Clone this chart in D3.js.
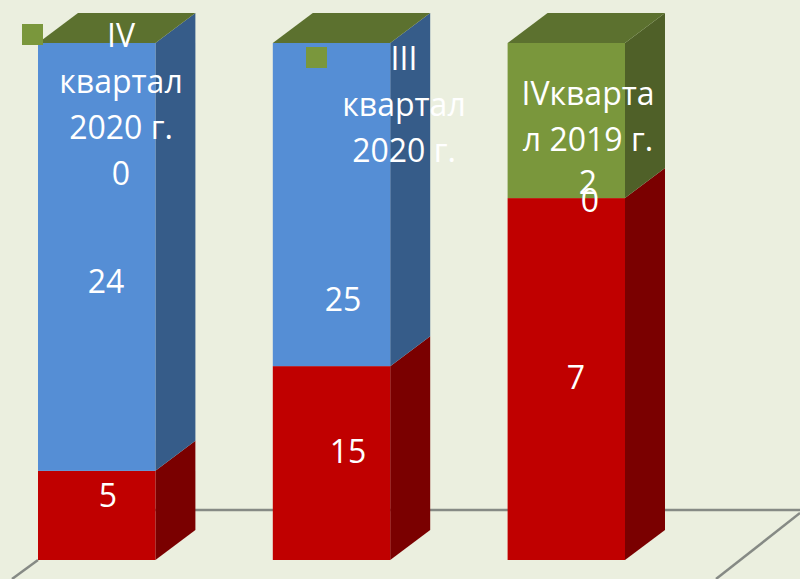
<!DOCTYPE html>
<html>
<head>
<meta charset="utf-8">
<script src="https://cdnjs.cloudflare.com/ajax/libs/d3/7.8.5/d3.min.js"></script>
<style>
    html, body { margin: 0; padding: 0; background: #ebefdf; }
    svg { display: block; }
    text { font-family: "Open Sans", sans-serif; font-size: 32px; fill: #fff; text-anchor: middle; }
</style>
</head>
<body>
<svg id="chart"></svg>
<script>
const quarters = ["IV квартал 2020 г.", "III квартал 2020 г.", "IV квартал 2019 г."];
const seriesNames = ["red", "blue", "green"];
const redValues = [5, 15, 7];
const blueValues = [24, 25, 0];
// the third bar is drawn as 7 to 3 in the picture, its printed label says 2
const greenValues = [0, 0, 3];

// the category labels wrap inside the bars like in the original
const wrappedLabels = [
    ["IV", "квартал", "2020 г.", "0"],
    ["III", "квартал", "2020 г."],
    ["IVкварта", "л 2019 г.", "2"]
];

const width = 800;
const height = 579;
const depthX = 40;
const depthY = -30;

const colors = {
    red: { front: "#c00000", side: "#7a0000" },
    blue: { front: "#558ed5", side: "#365c89" },
    green: { front: "#7a973c", side: "#4f6028", top: "#5c712f" }
};

const svg = d3.select("#chart").attr("width", width).attr("height", height);

const table = quarters.map((q, i) => ({
    quarter: q,
    red: redValues[i],
    blue: blueValues[i],
    green: greenValues[i]
}));

const stacked = d3.stack()
    .keys(seriesNames)
    .offset(d3.stackOffsetExpand)(table);

const xScale = d3.scaleBand()
    .domain(quarters)
    .range([38, 625])
    .paddingInner(0.5);

const yScale = d3.scaleLinear()
    .domain([0, 1])
    .range([560, 43]);

const bw = xScale.bandwidth();

// floor lines
svg.append("line").attr("x1", 155).attr("y1", 510).attr("x2", 800).attr("y2", 510)
    .attr("stroke", "#868a85").attr("stroke-width", 2.5);
svg.append("line").attr("x1", 38).attr("y1", 560).attr("x2", 12).attr("y2", 579)
    .attr("stroke", "#868a85").attr("stroke-width", 2.5);
svg.append("line").attr("x1", 800).attr("y1", 513).attr("x2", 716).attr("y2", 579)
    .attr("stroke", "#868a85").attr("stroke-width", 2.5);

const line = d3.line();

stacked.forEach(layer => {
    const g = svg.append("g").attr("class", "series-" + layer.key);
    const c = colors[layer.key];
    const parts = layer.map(d => ({ d, x0: xScale(d.data.quarter), y0: yScale(d[0]), y1: yScale(d[1]) }))
        .filter(p => p.y0 !== p.y1);

    g.selectAll(".side")
        .data(parts)
        .enter().append("path")
        .attr("class", "side")
        .attr("d", p => {
            const r = p.x0 + bw;
            return line([[r, p.y0], [r + depthX, p.y0 + depthY], [r + depthX, p.y1 + depthY], [r, p.y1]]) + "Z";
        })
        .attr("fill", c.side);

    g.selectAll(".front")
        .data(parts)
        .enter().append("rect")
        .attr("class", "front")
        .attr("x", p => p.x0)
        .attr("y", p => p.y1)
        .attr("width", bw)
        .attr("height", p => p.y0 - p.y1)
        .attr("fill", c.front);
});

// top faces belong to the green series even when its value is 0
svg.append("g").selectAll("path")
    .data(quarters)
    .enter().append("path")
    .attr("d", q => {
        const l = xScale(q);
        const t = yScale(1);
        return line([[l, t], [l + bw, t], [l + bw + depthX, t + depthY], [l + depthX, t + depthY]]) + "Z";
    })
    .attr("fill", colors.green.top);

// small legend keys inside the labels
const keyX = [22, 306];
const keyY = [24, 47];
svg.append("g").selectAll("rect")
    .data(keyX)
    .enter().append("rect")
    .attr("x", d => d)
    .attr("y", (d, i) => keyY[i])
    .attr("width", 21)
    .attr("height", 21)
    .attr("fill", colors.green.front);

// labels were dragged by hand in the original, so they get their own spots
const labelCenters = [121, 404, 588];
const labelFirstLine = [47, 70, 105];
const lineStep = 46;

wrappedLabels.forEach((lines, i) => {
    svg.append("g").selectAll("text")
        .data(lines)
        .enter().append("text")
        .attr("x", labelCenters[i])
        .attr("y", (d, j) => labelFirstLine[i] + j * lineStep - (lines.length === 3 && i === 2 && j === 2 ? 3 : 0))
        .text(d => d);
});

const redLabelX = [108, 348, 576];
const redLabelY = [507, 463, 389];
const blueLabelX = [106, 343, 590];
const blueLabelY = [293, 311, 212];

svg.append("g").selectAll("text")
    .data(redValues)
    .enter().append("text")
    .attr("x", (d, i) => redLabelX[i])
    .attr("y", (d, i) => redLabelY[i])
    .text(d => d);

svg.append("g").selectAll("text")
    .data(blueValues)
    .enter().append("text")
    .attr("x", (d, i) => blueLabelX[i])
    .attr("y", (d, i) => blueLabelY[i])
    .text(d => d);
</script>
</body>
</html>
